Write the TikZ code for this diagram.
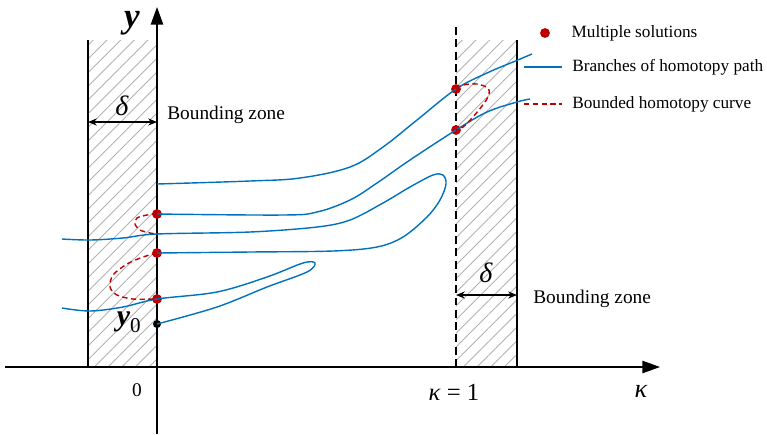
\documentclass[tikz,border=0pt]{standalone}
\usepackage{fontspec}
\setmainfont{Liberation Serif}
\usetikzlibrary{
    arrows.meta,
    patterns.meta,
    positioning
}
\definecolor{boBlue}{RGB}{0,114,189}
\definecolor{boRed}{RGB}{192,0,0}
\tikzset{
  zone/.style    = {pattern={Lines[angle=45,distance=5.5pt,line width=0.5pt]},
                    pattern color=gray!60},
  axis/.style    = {-{Triangle[length=10pt,width=7pt]}, line width=0.8pt},
  wall/.style    = {line width=0.8pt},
  dim/.style     = {{Stealth[length=5pt,width=4pt]}-{Stealth[length=5pt,width=4pt]},
                    line width=0.6pt},
  branch/.style  = {boBlue, line width=0.8pt},
  bound/.style   = {boRed, dash pattern=on 3pt off 2pt, line width=0.8pt},
  sol/.style     = {circle, fill=boRed, inner sep=0pt, minimum size=5.6pt},
  start/.style   = {circle, fill=black, inner sep=0pt, minimum size=4.6pt},
  lbl/.style     = {inner sep=0pt, font=\fontsize{11}{13}\selectfont},
  legtxt/.style  = {inner sep=0pt, anchor=west, font=\fontsize{9.8}{12}\selectfont},
  greek/.style   = {inner sep=0pt, font=\fontsize{14}{16}\selectfont}
}

\begin{document}
\begin{tikzpicture}[x=0.02cm, y=-0.02cm]
  \useasboundingbox (0,0) rectangle (767,434);

  % bounding zones
  \fill[zone] (88,40) rectangle (157,367);
  \fill[zone] (456,40) rectangle (517,367);
  \coordinate (zl1) at (88,40);   \coordinate (zl2) at (88,367);
  \coordinate (zr1) at (517,40);  \coordinate (zr2) at (517,367);
  \coordinate (k1a) at (456,27);  \coordinate (k1b) at (456,367);
  \draw[wall] (zl1) -- (zl2);
  \draw[wall] (zr1) -- (zr2);
  \draw[wall, dash pattern=on 4.5pt off 2.5pt] (k1a) -- (k1b);

  % axes
  \coordinate (xs) at (5,367);   \coordinate (xe) at (660,367);
  \coordinate (ys) at (157,434); \coordinate (ye) at (157,7);
  \draw[axis] (xs) -- (xe);
  \draw[axis] (ys) -- (ye);
  \node[inner sep=0pt, font=\fontsize{20}{20}\selectfont\bfseries\itshape] (ylab) at (132,23) {y};
  \node[greek, font=\fontsize{15}{17}\selectfont\itshape] (klab) at (641,391) {κ};
  \node[lbl] (zero) at (137,390) {0};
  \node[greek] (kone) at (454,392) {\textit{κ} = 1};

  % zone widths
  \coordinate (dl1) at (88,122);  \coordinate (dl2) at (157,122);
  \coordinate (dr1) at (456,295); \coordinate (dr2) at (517,295);
  \draw[dim] (dl1) -- (dl2);
  \draw[dim] (dr1) -- (dr2);
  \node[greek, font=\fontsize{16}{18}\selectfont\itshape] (dll) at (122,106) {δ};
  \node[greek, font=\fontsize{16}{18}\selectfont\itshape] (drl) at (486,273) {δ};
  \node[lbl, anchor=west] (bzl) at (167,115) {Bounding zone};
  \node[lbl, anchor=west] (bzr) at (533,299) {Bounding zone};

  % solutions
  \node[sol] (s1) at (157,214) {};
  \node[sol] (s2) at (157,253) {};
  \node[sol] (s3) at (157,299) {};
  \node[sol] (s4) at (456,89) {};
  \node[sol] (s5) at (456,130) {};
  \node[start] (y0) at (157,324) {};
  \node[inner sep=0pt, anchor=east, font=\fontsize{17}{17}\selectfont] (y0l) at (141,322)
       {\textbf{\textit{y}}\raisebox{-4pt}{\fontsize{12}{12}\selectfont 0}};

  % homotopy branches
  \draw[branch] plot[smooth, tension=0.6] coordinates {(157,184) (250,181) (300,178)
       (350,167) (383,147) (417,120) (s4.center) (487,73) (513,62) (532,54)};
  \draw[branch] plot[smooth, tension=0.6] coordinates {(s1.center) (283,215) (317,212)
       (350,200) (377,183) (410,160) (s5.center) (487,112) (517,102) (530,99)};
  \draw[branch] plot[smooth, tension=0.55] coordinates {(62,239) (90,240) (123,238)
       (157,234) (250,232) (317,227) (350,220) (383,203) (410,187) (433,175)
       (443,175) (446,184) (440,200) (427,217) (403,237) (377,247) (333,251)
       (250,252) (s2.center)};
  \draw[branch] plot[smooth, tension=0.55] coordinates {(62,308) (90,311) (123,307)
       (s3.center) (217,292) (267,277) (303,263) (315,263) (307,272) (267,287)
       (217,307) (y0.center)};

  % bounded curves
  \draw[bound] plot[smooth] coordinates {(s1.center) (147,215) (137,218) (135,224)
       (140,230) (150,233) (157,234)};
  \draw[bound] plot[smooth] coordinates {(s2.center) (143,257) (127,264) (113,275)
       (110,287) (117,295) (133,299) (s3.center)};
  \draw[bound] plot[smooth] coordinates {(s4.center) (463,85) (477,84) (488,88)
       (489,94) (485,102) (473,117) (463,127) (s5.center)};

  % legend
  \node[sol] (leg1) at (545,33) {};
  \node[legtxt, right=0.42cm of leg1] (legt1) {Multiple solutions};
  \coordinate (lb1) at (524,67);  \coordinate (lb2) at (562,67);
  \coordinate (lr1) at (524,104); \coordinate (lr2) at (562,104);
  \draw[branch] (lb1) -- (lb2);
  \draw[bound] (lr1) -- (lr2);
  \node[legtxt, right=0.2cm of lb2] (legt2) {Branches of homotopy path};
  \node[legtxt, right=0.2cm of lr2] (legt3) {Bounded homotopy curve};
\end{tikzpicture}
\end{document}
